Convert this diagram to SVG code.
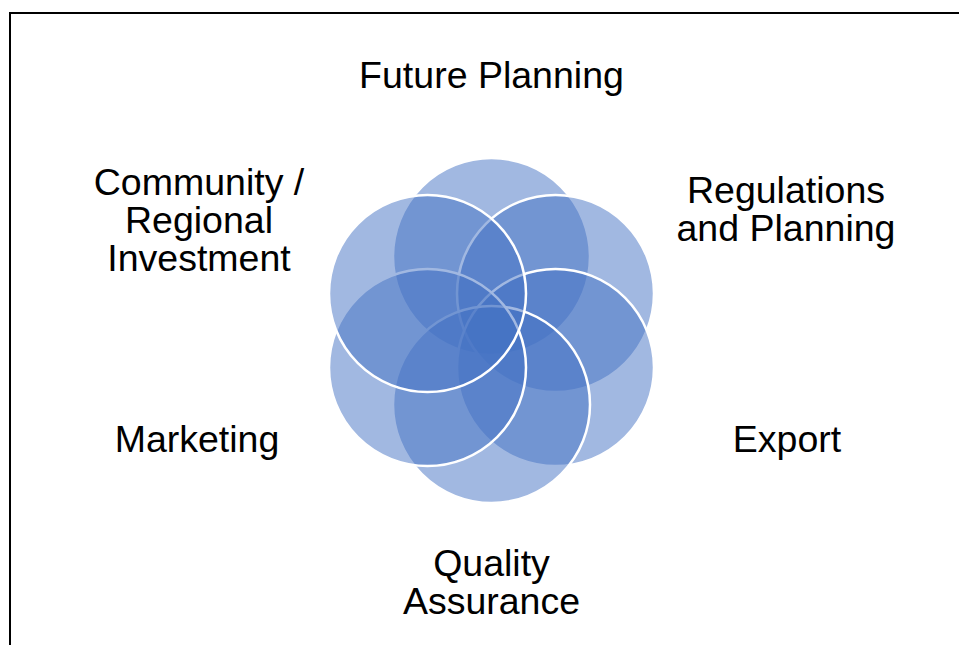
<svg xmlns="http://www.w3.org/2000/svg" width="959" height="645" viewBox="0 0 959 645">
  <style>
    .petal { fill: #4472C4; fill-opacity: 0.5; stroke: #FFFFFF; stroke-width: 2.5; }
    .label { font-family: "Liberation Sans", Arial, sans-serif; font-size: 37.5px; fill: #000000; text-anchor: middle; }
  </style>
  <rect x="0" y="0" width="959" height="645" fill="#FFFFFF"/>
  <rect x="10" y="13" width="962" height="645" fill="none" stroke="#000000" stroke-width="2"/>

  <!-- six overlapping circles around a common centre, drawn clockwise from the top -->
  <g id="circles">
    <g id="node-future"><circle class="petal" cx="491.5" cy="256.5" r="98.5"/></g>
    <g id="node-regulations"><circle class="petal" cx="555.5" cy="293.5" r="98.5"/></g>
    <g id="node-export"><circle class="petal" cx="555.5" cy="367.5" r="98.5"/></g>
    <g id="node-quality"><circle class="petal" cx="491.5" cy="404.5" r="98.5"/></g>
    <g id="node-marketing"><circle class="petal" cx="427.5" cy="367.5" r="98.5"/></g>
    <g id="node-community"><circle class="petal" cx="427.5" cy="293.5" r="98.5"/></g>
  </g>

  <g id="labels">
    <text class="label" x="491.5" y="88">Future Planning</text>
    <text class="label" x="786" y="203">Regulations<tspan x="786" dy="38">and Planning</tspan></text>
    <text class="label" x="787" y="452">Export</text>
    <text class="label" x="491.5" y="576">Quality<tspan x="491.5" dy="38">Assurance</tspan></text>
    <text class="label" x="197" y="452">Marketing</text>
    <text class="label" x="199" y="195">Community /<tspan x="199" dy="38">Regional</tspan><tspan x="199" dy="38">Investment</tspan></text>
  </g>
</svg>
